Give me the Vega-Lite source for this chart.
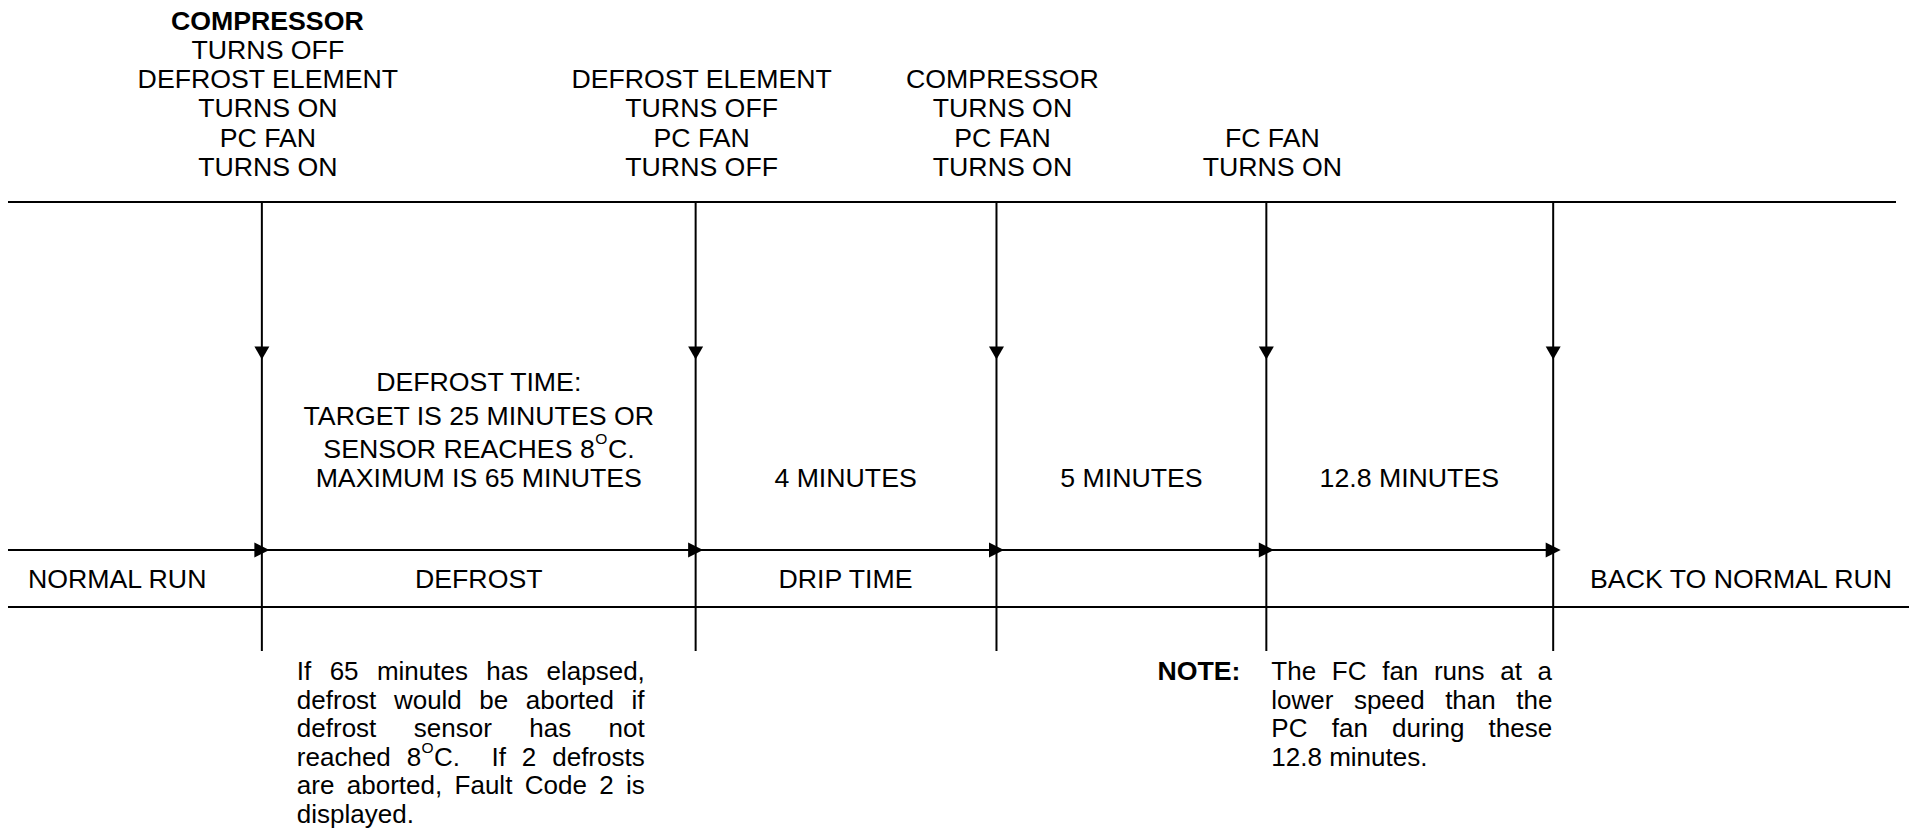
{
  "$schema": "https://vega.github.io/schema/vega-lite/v6.json",
  "width": 1910,
  "height": 840,
  "autosize": {"type": "fit", "contains": "padding"},
  "padding": 0,
  "background": "white",
  "config": {
    "view": {"stroke": null},
    "text": {"font": "Liberation Sans, Arial, DejaVu Sans", "fontSize": 26.7, "color": "black", "baseline": "alphabetic"}
  },
  "datasets": {
    "hlines": [
      {"x": 8, "x2": 1897, "y": 202},
      {"x": 8, "x2": 1552, "y": 550},
      {"x": 8, "x2": 1910, "y": 607}
    ],
    "events": [
      {"x": 262, "event": "Defrost start"},
      {"x": 696, "event": "Defrost end"},
      {"x": 997, "event": "Drip end"},
      {"x": 1267, "event": "FC fan on"},
      {"x": 1554, "event": "Back to normal"}
    ],
    "centered": [
      {"x": 268, "y": 58.8, "text": "TURNS OFF"},
      {"x": 268, "y": 88.1, "text": "DEFROST ELEMENT"},
      {"x": 268, "y": 117.4, "text": "TURNS ON"},
      {"x": 268, "y": 146.7, "text": "PC FAN"},
      {"x": 268, "y": 176, "text": "TURNS ON"},
      {"x": 702, "y": 88.1, "text": "DEFROST ELEMENT"},
      {"x": 702, "y": 117.4, "text": "TURNS OFF"},
      {"x": 702, "y": 146.7, "text": "PC FAN"},
      {"x": 702, "y": 176, "text": "TURNS OFF"},
      {"x": 1003, "y": 88.1, "text": "COMPRESSOR"},
      {"x": 1003, "y": 117.4, "text": "TURNS ON"},
      {"x": 1003, "y": 146.7, "text": "PC FAN"},
      {"x": 1003, "y": 176, "text": "TURNS ON"},
      {"x": 1273, "y": 146.7, "text": "FC FAN"},
      {"x": 1273, "y": 176, "text": "TURNS ON"},
      {"x": 479, "y": 391, "text": "DEFROST TIME:"},
      {"x": 479, "y": 425, "text": "TARGET IS 25 MINUTES OR"},
      {"x": 479, "y": 487, "text": "MAXIMUM IS 65 MINUTES"},
      {"x": 846, "y": 487, "text": "4 MINUTES"},
      {"x": 1132, "y": 487, "text": "5 MINUTES"},
      {"x": 1410, "y": 487, "text": "12.8 MINUTES"},
      {"x": 479, "y": 588, "text": "DEFROST"},
      {"x": 846, "y": 588, "text": "DRIP TIME"},
      {"x": 1742, "y": 588, "text": "BACK TO NORMAL RUN"}
    ],
    "capsLeft": [
      {"x": 28, "y": 588, "text": "NORMAL RUN"},
      {"x": 323.5, "y": 457.5, "text": "SENSOR REACHES 8"},
      {"x": 608.3, "y": 457.5, "text": "C."}
    ],
    "bold": [
      {"x": 171, "y": 29.5, "text": "COMPRESSOR"},
      {"x": 1158, "y": 680, "text": "NOTE:"}
    ],
    "superscripts": [
      {"x": 595.5, "y": 444, "text": "O"},
      {"x": 421.8, "y": 753, "text": "O"}
    ],
    "paraWords": [
      {"x": 297, "y": 680, "text": "If"},
      {"x": 329.8, "y": 680, "text": "65"},
      {"x": 377.1, "y": 680, "text": "minutes"},
      {"x": 486.5, "y": 680, "text": "has"},
      {"x": 546.8, "y": 680, "text": "elapsed,"},
      {"x": 297, "y": 708.5, "text": "defrost"},
      {"x": 394.1, "y": 708.5, "text": "would"},
      {"x": 479.6, "y": 708.5, "text": "be"},
      {"x": 526.1, "y": 708.5, "text": "aborted"},
      {"x": 631.9, "y": 708.5, "text": "if"},
      {"x": 297, "y": 737, "text": "defrost"},
      {"x": 414, "y": 737, "text": "sensor"},
      {"x": 529.5, "y": 737, "text": "has"},
      {"x": 608.9, "y": 737, "text": "not"},
      {"x": 297, "y": 765.5, "text": "reached"},
      {"x": 406.9, "y": 765.5, "text": "8"},
      {"x": 434.3, "y": 765.5, "text": "C."},
      {"x": 491.7, "y": 765.5, "text": "If"},
      {"x": 522.1, "y": 765.5, "text": "2"},
      {"x": 552.5, "y": 765.5, "text": "defrosts"},
      {"x": 297, "y": 794, "text": "are"},
      {"x": 347, "y": 794, "text": "aborted,"},
      {"x": 454.8, "y": 794, "text": "Fault"},
      {"x": 525, "y": 794, "text": "Code"},
      {"x": 599.5, "y": 794, "text": "2"},
      {"x": 626.3, "y": 794, "text": "is"},
      {"x": 297, "y": 822.5, "text": "displayed."},
      {"x": 1272, "y": 680, "text": "The"},
      {"x": 1332.5, "y": 680, "text": "FC"},
      {"x": 1382.9, "y": 680, "text": "fan"},
      {"x": 1434.7, "y": 680, "text": "runs"},
      {"x": 1501, "y": 680, "text": "at"},
      {"x": 1538.4, "y": 680, "text": "a"},
      {"x": 1272, "y": 708.5, "text": "lower"},
      {"x": 1354.6, "y": 708.5, "text": "speed"},
      {"x": 1445.9, "y": 708.5, "text": "than"},
      {"x": 1517, "y": 708.5, "text": "the"},
      {"x": 1272, "y": 737, "text": "PC"},
      {"x": 1332.4, "y": 737, "text": "fan"},
      {"x": 1392.8, "y": 737, "text": "during"},
      {"x": 1489.4, "y": 737, "text": "these"},
      {"x": 1272, "y": 765.5, "text": "12.8 minutes."}
    ]
  },
  "layer": [
    {
      "data": {"name": "hlines"},
      "mark": {"type": "rule", "color": "black", "strokeWidth": 2},
      "encoding": {
        "x": {"field": "x", "type": "quantitative", "scale": {"domain": [0, 1910], "nice": false, "zero": false}, "axis": null},
        "x2": {"field": "x2"},
        "y": {"field": "y", "type": "quantitative", "scale": {"domain": [0, 840], "nice": false, "zero": false, "reverse": true}, "axis": null}
      }
    },
    {
      "data": {"name": "events"},
      "mark": {"type": "rule", "color": "black", "strokeWidth": 2},
      "encoding": {
        "x": {"field": "x", "type": "quantitative", "scale": {"domain": [0, 1910], "nice": false, "zero": false}, "axis": null},
        "y": {"datum": 202, "type": "quantitative", "scale": {"domain": [0, 840], "nice": false, "zero": false, "reverse": true}, "axis": null},
        "y2": {"datum": 651}
      }
    },
    {
      "data": {"name": "events"},
      "mark": {"type": "point", "shape": "triangle-down", "size": 225, "filled": true, "color": "black", "opacity": 1, "strokeWidth": 0},
      "encoding": {
        "x": {"field": "x", "type": "quantitative", "scale": {"domain": [0, 1910], "nice": false, "zero": false}, "axis": null},
        "y": {"datum": 353, "type": "quantitative", "scale": {"domain": [0, 840], "nice": false, "zero": false, "reverse": true}, "axis": null}
      }
    },
    {
      "data": {"name": "events"},
      "mark": {"type": "point", "shape": "M-1,-1L1,0L-1,1Z", "size": 225, "filled": true, "color": "black", "opacity": 1, "strokeWidth": 0, "dx": -9.5},
      "encoding": {
        "x": {"field": "x", "type": "quantitative", "scale": {"domain": [0, 1910], "nice": false, "zero": false}, "axis": null},
        "y": {"datum": 550, "type": "quantitative", "scale": {"domain": [0, 840], "nice": false, "zero": false, "reverse": true}, "axis": null}
      }
    },
    {
      "data": {"name": "centered"},
      "mark": {"type": "text", "align": "center"},
      "encoding": {
        "x": {"field": "x", "type": "quantitative", "scale": {"domain": [0, 1910], "nice": false, "zero": false}, "axis": null},
        "y": {"field": "y", "type": "quantitative", "scale": {"domain": [0, 840], "nice": false, "zero": false, "reverse": true}, "axis": null},
        "text": {"field": "text"}
      }
    },
    {
      "data": {"name": "capsLeft"},
      "mark": {"type": "text", "align": "left"},
      "encoding": {
        "x": {"field": "x", "type": "quantitative", "scale": {"domain": [0, 1910], "nice": false, "zero": false}, "axis": null},
        "y": {"field": "y", "type": "quantitative", "scale": {"domain": [0, 840], "nice": false, "zero": false, "reverse": true}, "axis": null},
        "text": {"field": "text"}
      }
    },
    {
      "data": {"name": "bold"},
      "mark": {"type": "text", "align": "left", "fontWeight": "bold"},
      "encoding": {
        "x": {"field": "x", "type": "quantitative", "scale": {"domain": [0, 1910], "nice": false, "zero": false}, "axis": null},
        "y": {"field": "y", "type": "quantitative", "scale": {"domain": [0, 840], "nice": false, "zero": false, "reverse": true}, "axis": null},
        "text": {"field": "text"}
      }
    },
    {
      "data": {"name": "superscripts"},
      "mark": {"type": "text", "align": "left", "fontSize": 15.5},
      "encoding": {
        "x": {"field": "x", "type": "quantitative", "scale": {"domain": [0, 1910], "nice": false, "zero": false}, "axis": null},
        "y": {"field": "y", "type": "quantitative", "scale": {"domain": [0, 840], "nice": false, "zero": false, "reverse": true}, "axis": null},
        "text": {"field": "text"}
      }
    },
    {
      "data": {"name": "paraWords"},
      "mark": {"type": "text", "align": "left", "fontSize": 26},
      "encoding": {
        "x": {"field": "x", "type": "quantitative", "scale": {"domain": [0, 1910], "nice": false, "zero": false}, "axis": null},
        "y": {"field": "y", "type": "quantitative", "scale": {"domain": [0, 840], "nice": false, "zero": false, "reverse": true}, "axis": null},
        "text": {"field": "text"}
      }
    }
  ]
}
